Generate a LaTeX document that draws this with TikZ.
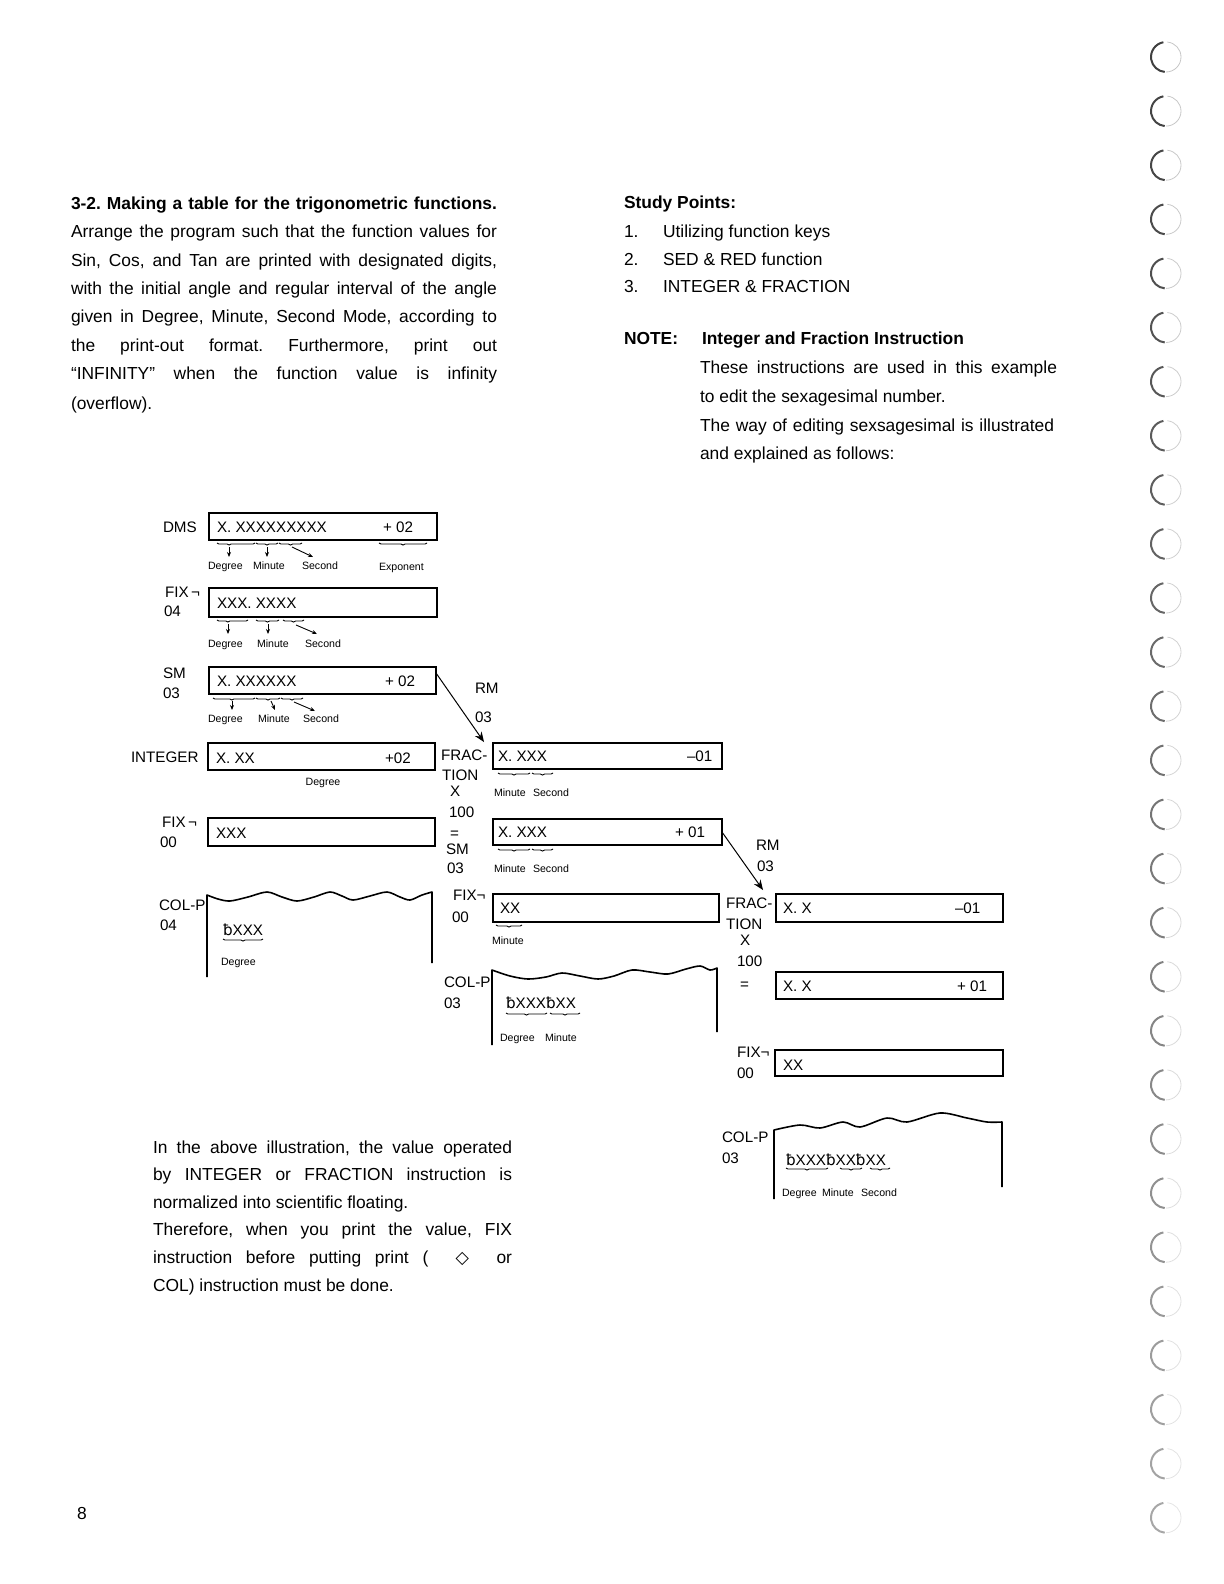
\documentclass[tikz,border=0pt]{standalone}
\usepackage{fontspec}
\setmainfont{Liberation Sans}
\newfontfamily\djv{DejaVu Sans}
\usetikzlibrary{decorations.pathreplacing,arrows.meta}
\newcommand{\bl}{{\djv ƀ}}
\newcommand{\jl}[2]{\makebox[#1][s]{#2}}
\frenchspacing
\begin{document}
\begin{tikzpicture}[x=0.5pt,y=-0.5pt,
 every node/.style={inner sep=0pt,outer sep=0pt},
 body/.style={anchor=base west,yshift=-3pt,font=\fontsize{8.7}{10}\selectfont},
 bodyb/.style={anchor=base west,yshift=-3pt,font=\bfseries\fontsize{8.7}{10}\selectfont},
 lab/.style={anchor=base west,yshift=-2.75pt,font=\fontsize{7.6}{9}\selectfont},
 small/.style={anchor=base west,yshift=-2pt,font=\fontsize{5.3}{7}\selectfont},
 regbox/.style={draw,line width=0.8pt},
 ubrace/.style={decorate,decoration={brace,mirror,amplitude=1pt,aspect=#1},line width=0.45pt},
 ubrace/.default=0.5,
 tickarrow/.style={-{Stealth[length=2.5pt,width=2pt]},line width=0.45pt},
 rmarrow/.style={-{Stealth[length=5pt,width=4pt]},line width=0.5pt},
 paper/.style={line width=0.8pt,line join=round},
]
\fill[white] (0,0) rectangle (1224,1584);
\useasboundingbox (0,0) rectangle (1224,1584);

% ---------- binder holes ----------
\foreach \k in {0,...,27}{
  \pgfmathsetmacro\cy{57+54.1*\k}
  \pgfmathsetmacro\op{0.75-0.015*\k}
  \draw[black,opacity=\op,line width=1pt] (1166,\cy) ++(100:7.5pt) arc[start angle=100,end angle=265,radius=7.5pt];
  \draw[black,opacity=0.3*\op,line width=0.4pt] (1166,\cy) ++(270:7.5pt) arc[start angle=270,end angle=445,radius=7.5pt];
}

% ---------- left text column ----------
\node[bodyb] (title) at (71,203) {\jl{213pt}{3-2. Making a table for the trigonometric functions.}};
\node[body] (p1) at (71,231) {\jl{213pt}{Arrange the program such that the function values for}};
\node[body] (p2) at (71,260) {\jl{213pt}{Sin, Cos, and Tan are printed with designated digits,}};
\node[body] (p3) at (71,288) {\jl{213pt}{with the initial angle and regular interval of the angle}};
\node[body] (p4) at (71,316) {\jl{213pt}{given in Degree, Minute, Second Mode, according to}};
\node[body] (p5) at (71,345) {\jl{213pt}{the print-out format. Furthermore, print out}};
\node[body] (p6) at (71,373) {\jl{213pt}{“INFINITY” when the function value is infinity}};
\node[body] (p7) at (71,403) {(overflow).};

% ---------- right text column ----------
\node[bodyb] (sp) at (624,202) {Study Points:};
\node[body] (n1) at (624,231) {1.};
\node[body] (s1) at (663,231) {Utilizing function keys};
\node[body] (n2) at (624,259) {2.};
\node[body] (s2) at (663,259) {SED \& RED function};
\node[body] (n3) at (624,286) {3.};
\node[body] (s3) at (663,286) {INTEGER \& FRACTION};
\node[bodyb] (note) at (624,338) {NOTE:};
\node[bodyb] (noteh) at (702,338) {Integer and Fraction Instruction};
\node[body] (q1) at (700,367) {\jl{178.5pt}{These instructions are used in this example}};
\node[body] (q2) at (700,396) {to edit the sexagesimal number.};
\node[body] (q3) at (700,425) {\jl{177pt}{The way of editing sexsagesimal is illustrated}};
\node[body] (q4) at (700,453) {and explained as follows:};

% ---------- bottom text ----------
\node[body] (r1) at (153,1147) {\jl{179.5pt}{In the above illustration, the value operated}};
\node[body] (r2) at (153,1174) {\jl{179.5pt}{by INTEGER or FRACTION instruction is}};
\node[body] (r3) at (153,1202) {normalized into scientific floating.};
\node[body] (r4) at (153,1229) {\jl{179.5pt}{Therefore, when you print the value, FIX}};
\node[body] (r5) at (153,1257) {\jl{179.5pt}{instruction before putting print ( \ {\djv ◇} \ or}};
\node[body] (r6) at (153,1285) {COL) instruction must be done.};
\node[body] (pg) at (77,1513) {8};

% ---------- column 1 ----------
\node[lab] (ldms) at (163,527) {DMS};
\node[regbox,minimum width=114pt,minimum height=13.5pt] (bdms) at (323,526.5) {};
\node[lab] (tdms) at (217,527) {X. XXXXXXXXX};
\node[lab] (edms) at (383,527) {+ 02};
\draw[ubrace=0.32] (217,543) -- (255,543);
\draw[ubrace] (256,543) -- (278,543);
\draw[ubrace] (279,543) -- (302,543);
\draw[ubrace] (379,543) -- (427,543);
\node[small] (d1) at (208,565) {Degree};
\node[small] (m1) at (253,565) {Minute};
\node[small] (s1l) at (302,565) {Second};
\node[small] (x1) at (379,566) {Exponent};
\draw[tickarrow] (229,547) -- (229,557);
\draw[tickarrow] (267,547) -- (267,557);
\draw[tickarrow] (292,547) -- (313,557);

\node[lab] (lfix1) at (165,592) {FIX\,¬};
\node[lab] (lfix1b) at (164,611) {04};
\node[regbox,minimum width=114pt,minimum height=14.5pt] (bfix1) at (323,602.5) {};
\node[lab] (tfix1) at (217,603) {XXX. XXXX};
\draw[ubrace=0.35] (217,620) -- (248,620);
\draw[ubrace] (256,620) -- (279,620);
\draw[ubrace] (283,620) -- (304,620);
\node[small] (d2) at (208,643) {Degree};
\node[small] (m2) at (257,643) {Minute};
\node[small] (s2l) at (305,643) {Second};
\draw[tickarrow] (228,624) -- (228,634);
\draw[tickarrow] (268,624) -- (268,634);
\draw[tickarrow] (296,625) -- (317,634);

\node[lab] (lsm1) at (163,673) {SM};
\node[lab] (lsm1b) at (163,693) {03};
\node[regbox,minimum width=113.5pt,minimum height=13.5pt] (bsm1) at (322.5,680.5) {};
\node[lab] (tsm1) at (217,681) {X. XXXXXX};
\node[lab] (esm1) at (385,681) {+ 02};
\draw[ubrace=0.45] (213,698) -- (255,698);
\draw[ubrace] (256,698) -- (280,698);
\draw[ubrace] (281,698) -- (303,698);
\node[small] (d3) at (208,718) {Degree};
\node[small] (m3) at (258,718) {Minute};
\node[small] (s3l) at (303,718) {Second};
\draw[tickarrow] (232,701) -- (232,710);
\draw[tickarrow] (271,701) -- (275,710);
\draw[tickarrow] (294,702) -- (315,711);

\node[lab] (lint) at (131,757) {INTEGER};
\node[regbox,minimum width=113.5pt,minimum height=13.5pt] (bint) at (321.5,756.5) {};
\node[lab] (tint) at (216,758) {X. XX};
\node[lab] (eint) at (385,758) {+02};
\node[small,anchor=base] (dint) at (323,781) {Degree};

\node[lab] (lfix2) at (162,822) {FIX\,¬};
\node[lab] (lfix2b) at (160,842) {00};
\node[regbox,minimum width=113.5pt,minimum height=14pt] (bfix2) at (321.5,832) {};
\node[lab] (tfix2) at (216,833) {XXX};

\node[lab] (lcol1) at (159,905) {COL-P};
\node[lab] (lcol1b) at (160,925) {04};
\draw[paper] (207,977) -- (207,895) -- plot[smooth] coordinates {(207,895) (218,899) (230,901) (248,897) (267,892) (282,897) (297,901) (314,897) (330,892) (342,896) (353,900) (370,896) (387,892) (400,897) (410,900) (422,895) (432,892)} -- (432,963);
\node[lab] (tcol1) at (223,930) {\bl XXX};
\draw[ubrace] (223,939) -- (263,939);
\node[small] (dcol1) at (221,961) {Degree};

% ---------- column 2 ----------
\node[lab] (lrm1) at (475,688) {RM};
\node[lab] (lrm1b) at (475,717) {03};
\coordinate (rm1tip) at (484,742);
\draw[rmarrow] ([yshift=-3pt]bsm1.north east) -- (rm1tip);

\node[lab] (lfr1) at (441,755) {FRAC-};
\node[lab] (lfr1b) at (442,775) {TION};
\node[lab] (lfr1c) at (450,791) {X};
\node[lab] (lfr1d) at (449,812) {100};
\node[lab] (lfr1e) at (450,833) {=};
\node[lab] (lfr1f) at (446,849) {SM};
\node[lab] (lfr1g) at (447,868) {03};

\node[regbox,minimum width=114.5pt,minimum height=13pt] (bfr1) at (607.5,756) {};
\node[lab] (tfr1) at (498,756) {X. XXX};
\node[lab] (efr1) at (687,756) {–01};
\draw[ubrace] (498,773) -- (530,773);
\draw[ubrace] (532,773) -- (553,773);
\node[small] (mfr1) at (494,792) {Minute};
\node[small] (sfr1) at (533,792) {Second};

\node[regbox,minimum width=114.5pt,minimum height=13pt] (bsm2) at (607.5,832) {};
\node[lab] (tsm2) at (498,832) {X. XXX};
\node[lab] (esm2) at (675,832) {+ 01};
\draw[ubrace] (498,849) -- (530,849);
\draw[ubrace] (532,849) -- (553,849);
\node[small] (msm2) at (494,868) {Minute};
\node[small] (ssm2) at (533,868) {Second};

\node[lab] (lfix3) at (453,895) {FIX¬};
\node[lab] (lfix3b) at (452,917) {00};
\node[regbox,minimum width=113pt,minimum height=14pt] (bfix3) at (606,908) {};
\node[lab] (tfix3) at (500,908) {XX};
\draw[ubrace] (496,925) -- (522,925);
\node[small] (mfix3) at (492,940) {Minute};

\node[lab] (lcol2) at (444,982) {COL-P};
\node[lab] (lcol2b) at (444,1003) {03};
\draw[paper] (492,1045) -- (492,970) -- plot[smooth] coordinates {(492,970) (510,976) (528,979) (546,977) (562,973) (580,976) (598,979) (614,976) (632,970) (650,972) (668,974) (686,969) (700,966) (710,970) (717,968)} -- (717,1032);
\node[lab] (tcol2) at (506,1003) {\bl XXX\bl XX};
\draw[ubrace] (506,1013) -- (547,1013);
\draw[ubrace] (550,1013) -- (580,1013);
\node[small] (dcol2) at (500,1037) {Degree};
\node[small] (mcol2) at (545,1037) {Minute};

% ---------- column 3 ----------
\node[lab] (lrm2) at (756,845) {RM};
\node[lab] (lrm2b) at (757,866) {03};
\coordinate (rm2tip) at (763,890);
\draw[rmarrow] (bsm2.east) -- (rm2tip);

\node[lab] (lfr2) at (726,903) {FRAC-};
\node[lab] (lfr2b) at (726,924) {TION};
\node[lab] (lfr2c) at (740,940) {X};
\node[lab] (lfr2d) at (737,961) {100};
\node[lab] (lfr2e) at (740,984) {=};

\node[regbox,minimum width=113.5pt,minimum height=14pt] (bfr2) at (889.5,908) {};
\node[lab] (tfr2) at (783,908) {X. X};
\node[lab] (efr2) at (955,908) {–01};

\node[regbox,minimum width=113.5pt,minimum height=13.5pt] (bmul) at (889.5,985.5) {};
\node[lab] (tmul) at (783,986) {X. X};
\node[lab] (emul) at (957,986) {+ 01};

\node[lab] (lfix4) at (737,1052) {FIX¬};
\node[lab] (lfix4b) at (737,1073) {00};
\node[regbox,minimum width=114pt,minimum height=13pt] (bfix4) at (889,1063) {};
\node[lab] (tfix4) at (783,1065) {XX};

\node[lab] (lcol3) at (722,1137) {COL-P};
\node[lab] (lcol3b) at (722,1158) {03};
\draw[paper] (774,1199) -- (774,1130) -- plot[smooth] coordinates {(774,1130) (800,1125) (820,1128) (843,1122) (860,1127) (887,1118) (907,1122) (940,1113) (967,1118) (987,1122) (1002,1122)} -- (1002,1187);
\node[lab] (tcol3) at (786,1160) {\bl XXX\bl XX\bl XX};
\draw[ubrace] (786,1168) -- (828,1168);
\draw[ubrace] (840,1168) -- (862,1168);
\draw[ubrace] (870,1168) -- (890,1168);
\node[small] (dcol3) at (782,1192) {Degree};
\node[small] (mcol3) at (822,1192) {Minute};
\node[small] (scol3) at (861,1192) {Second};
\end{tikzpicture}
\end{document}
